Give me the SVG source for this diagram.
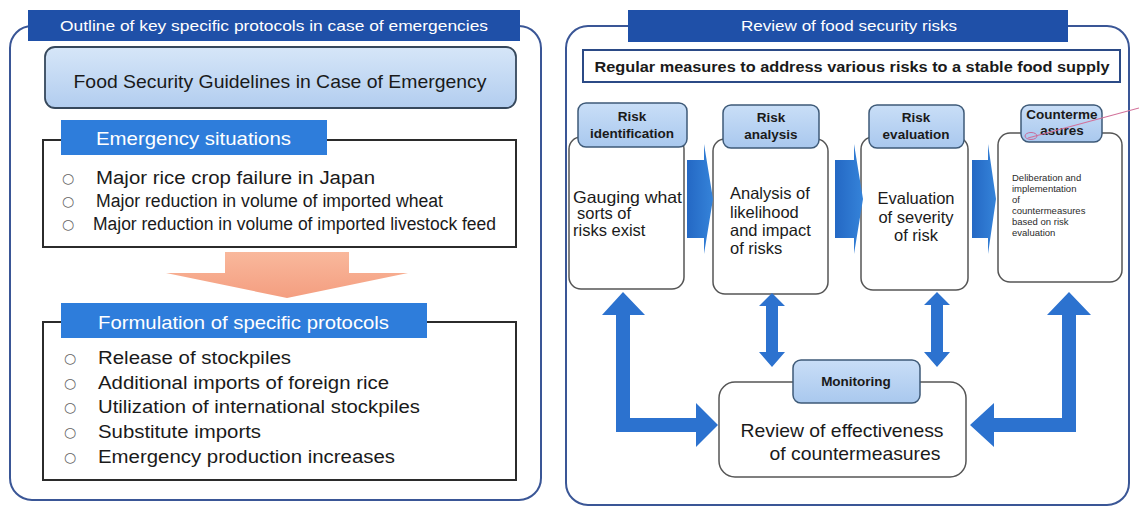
<svg xmlns="http://www.w3.org/2000/svg" width="1139" height="507" viewBox="0 0 1139 507">
<defs>
<linearGradient id="gLight" x1="0" y1="0" x2="0" y2="1"><stop offset="0" stop-color="#d6e6f8"/><stop offset="1" stop-color="#b2cdef"/></linearGradient>
<linearGradient id="gLabel" x1="0" y1="0" x2="0" y2="1"><stop offset="0" stop-color="#c9def7"/><stop offset="1" stop-color="#a9c8ee"/></linearGradient>
<linearGradient id="gOrange" x1="0" y1="0" x2="0" y2="1"><stop offset="0" stop-color="#f9b89c"/><stop offset="1" stop-color="#f49e80"/></linearGradient>
<linearGradient id="gBlue" x1="0" y1="0" x2="1" y2="0"><stop offset="0" stop-color="#2468c4"/><stop offset="1" stop-color="#3583d9"/></linearGradient>
</defs>
<style>
text{font-family:"Liberation Sans",Arial,sans-serif;}
.panel{fill:#ffffff;stroke:#3a5696;stroke-width:2;}
.hdr{fill:#1f50a8;}
.hdrt{fill:#ffffff;font-size:15px;text-anchor:middle;}
.sec{fill:#2e7ddb;}
.sect{fill:#ffffff;font-size:19px;}
.box{fill:#ffffff;stroke:#2b2b2b;stroke-width:2;}
.li{fill:#1a1a1a;font-size:18px;}
.bul{fill:#666666;font-size:14px;font-family:"DejaVu Sans",sans-serif;}
.lab{fill:url(#gLabel);stroke:#3e5a78;stroke-width:1.5;}
.labt{fill:#1a1a1a;font-size:13.5px;font-weight:bold;text-anchor:middle;}
.step{fill:#ffffff;stroke:#555555;stroke-width:1.5;}
.st{fill:#1a1a1a;font-size:16.5px;}
.sm{fill:#2a2a2a;font-size:9.5px;}
.arr{fill:url(#gBlue);}
.varr{fill:#2c72cf;}
</style>

<!-- Left panel -->
<g id="left-panel">
<rect class="panel" x="10" y="26" width="531" height="474" rx="22"/>
<rect class="hdr" x="28" y="10" width="492" height="31"/>
<text class="hdrt" x="274" y="31" textLength="428" lengthAdjust="spacingAndGlyphs">Outline of key specific protocols in case of emergencies</text>
</g>

<g id="guidelines">
<rect x="45" y="47" width="471" height="61" rx="10" fill="url(#gLight)" stroke="#36485c" stroke-width="1.8"/>
<text x="280" y="88" font-size="19" fill="#1a1a1a" text-anchor="middle" textLength="413" lengthAdjust="spacingAndGlyphs">Food Security Guidelines in Case of Emergency</text>
</g>

<g id="emergency-situations">
<rect class="box" x="43" y="140" width="473" height="107"/>
<rect class="sec" x="61" y="120" width="266" height="35"/>
<text class="sect" x="96" y="145" textLength="195" lengthAdjust="spacingAndGlyphs">Emergency situations</text>
<text class="bul" x="62" y="183">○</text>
<text class="bul" x="62" y="206">○</text>
<text class="bul" x="62" y="229">○</text>
<text class="li" x="96" y="184" textLength="279" lengthAdjust="spacingAndGlyphs">Major rice crop failure in Japan</text>
<text class="li" x="96" y="207" textLength="347" lengthAdjust="spacingAndGlyphs">Major reduction in volume of imported wheat</text>
<text class="li" x="93" y="230" textLength="403" lengthAdjust="spacingAndGlyphs">Major reduction in volume of imported livestock feed</text>
</g>

<g id="connectors-left">
<path d="M225,252 H349 V273 H408 L287,298 L166,273 H225 Z" fill="url(#gOrange)"/>
</g>

<g id="formulation">
<rect class="box" x="43" y="322" width="473" height="158"/>
<rect class="sec" x="61" y="303" width="366" height="35"/>
<text class="sect" x="98" y="329" textLength="291" lengthAdjust="spacingAndGlyphs">Formulation of specific protocols</text>
<text class="bul" x="64" y="363">○</text>
<text class="bul" x="64" y="388">○</text>
<text class="bul" x="64" y="412">○</text>
<text class="bul" x="64" y="437">○</text>
<text class="bul" x="64" y="462">○</text>
<text class="li" x="98" y="364" textLength="193" lengthAdjust="spacingAndGlyphs">Release of stockpiles</text>
<text class="li" x="98" y="389" textLength="291" lengthAdjust="spacingAndGlyphs">Additional imports of foreign rice</text>
<text class="li" x="98" y="413" textLength="322" lengthAdjust="spacingAndGlyphs">Utilization of international stockpiles</text>
<text class="li" x="98" y="438" textLength="163" lengthAdjust="spacingAndGlyphs">Substitute imports</text>
<text class="li" x="98" y="463" textLength="297" lengthAdjust="spacingAndGlyphs">Emergency production increases</text>
</g>

<!-- Right panel -->
<g id="right-panel">
<rect class="panel" x="566" y="26" width="563" height="479" rx="22"/>
<rect class="hdr" x="628" y="10" width="440" height="32"/>
<text class="hdrt" x="849" y="31" textLength="216" lengthAdjust="spacingAndGlyphs">Review of food security risks</text>
</g>

<g id="subtitle">
<rect x="583" y="50" width="537" height="32" fill="#ffffff" stroke="#2b4a86" stroke-width="2"/>
<text x="852" y="72" font-size="14.5" font-weight="bold" fill="#1a1a1a" text-anchor="middle" textLength="515" lengthAdjust="spacingAndGlyphs">Regular measures to address various risks to a stable food supply</text>
</g>

<g id="risk-identification">
<rect class="step" x="569" y="137" width="115" height="152" rx="12"/>
<rect class="lab" x="578" y="103" width="109" height="44" rx="8"/>
<text class="labt" x="632" y="121">Risk</text>
<text class="labt" x="632" y="138">identification</text>
<text class="st" x="573" y="203" textLength="109" lengthAdjust="spacingAndGlyphs">Gauging what</text>
<text class="st" x="577" y="219">sorts of</text>
<text class="st" x="573" y="236">risks exist</text>
</g>

<g id="risk-analysis">
<rect class="step" x="713" y="139" width="115" height="155" rx="12"/>
<rect class="lab" x="723" y="105" width="96" height="43" rx="8"/>
<text class="labt" x="771" y="122">Risk</text>
<text class="labt" x="771" y="139">analysis</text>
<text class="st" x="730" y="199">Analysis of</text>
<text class="st" x="730" y="218">likelihood</text>
<text class="st" x="730" y="236">and impact</text>
<text class="st" x="730" y="254">of risks</text>
</g>

<g id="risk-evaluation">
<rect class="step" x="861" y="137" width="107" height="153" rx="12"/>
<rect class="lab" x="869" y="105" width="95" height="43" rx="8"/>
<text class="labt" x="916" y="122">Risk</text>
<text class="labt" x="916" y="139">evaluation</text>
<text class="st" x="916" y="204" text-anchor="middle">Evaluation</text>
<text class="st" x="916" y="223" text-anchor="middle">of severity</text>
<text class="st" x="916" y="241" text-anchor="middle">of risk</text>
</g>

<g id="countermeasures">
<rect class="step" x="998" y="133" width="124" height="149" rx="12"/>
<rect class="lab" x="1021" y="105" width="81" height="37" rx="8"/>
<text class="labt" x="1062" y="119">Counterme</text>
<text class="labt" x="1062" y="135">asures</text>
<text class="sm" x="1012" y="181">Deliberation and</text>
<text class="sm" x="1012" y="192">implementation</text>
<text class="sm" x="1012" y="203">of</text>
<text class="sm" x="1012" y="214">countermeasures</text>
<text class="sm" x="1012" y="225">based on risk</text>
<text class="sm" x="1012" y="236">evaluation</text>
<path d="M1028,138 L1139,108" stroke="#d2719a" stroke-width="1.2" fill="none"/>
<ellipse cx="1031" cy="136" rx="6" ry="3.5" fill="none" stroke="#c86a9a" stroke-width="1"/>
</g>

<g id="monitoring">
<rect class="step" x="719" y="382" width="247" height="95" rx="16"/>
<rect class="lab" x="793" y="360" width="127" height="43" rx="8"/>
<text class="labt" x="856" y="386">Monitoring</text>
<text x="842" y="437" font-size="19" fill="#1a1a1a" text-anchor="middle" textLength="203" lengthAdjust="spacingAndGlyphs">Review of effectiveness</text>
<text x="855" y="460" font-size="19" fill="#1a1a1a" text-anchor="middle" textLength="171" lengthAdjust="spacingAndGlyphs">of countermeasures</text>
</g>

<g id="connectors">
<path class="arr" d="M687,160 H704 V144 L713,199 L704,254 V238 H687 Z"/>
<path class="arr" d="M835,160 H854 V144 L863,199 L854,254 V238 H835 Z"/>
<path class="arr" d="M972,160 H988 V144 L996,199 L988,254 V238 H972 Z"/>
<path class="varr" d="M623,292 L645,315 H630 V418 H696 V403 L718,425 L696,447 V432 H616 V315 H602 Z"/>
<path class="varr" d="M1069,292 L1091,315 H1076 V432 H994 V447 L970,425 L994,403 V418 H1062 V315 H1047 Z"/>
<path class="varr" d="M772,293 L785,306 H778 V352 H785 L772,367 L759,352 H766 V306 H759 Z"/>
<path class="varr" d="M937,292 L950,305 H943 V352 H950 L937,367 L924,352 H931 V305 H924 Z"/>
</g>
</svg>
